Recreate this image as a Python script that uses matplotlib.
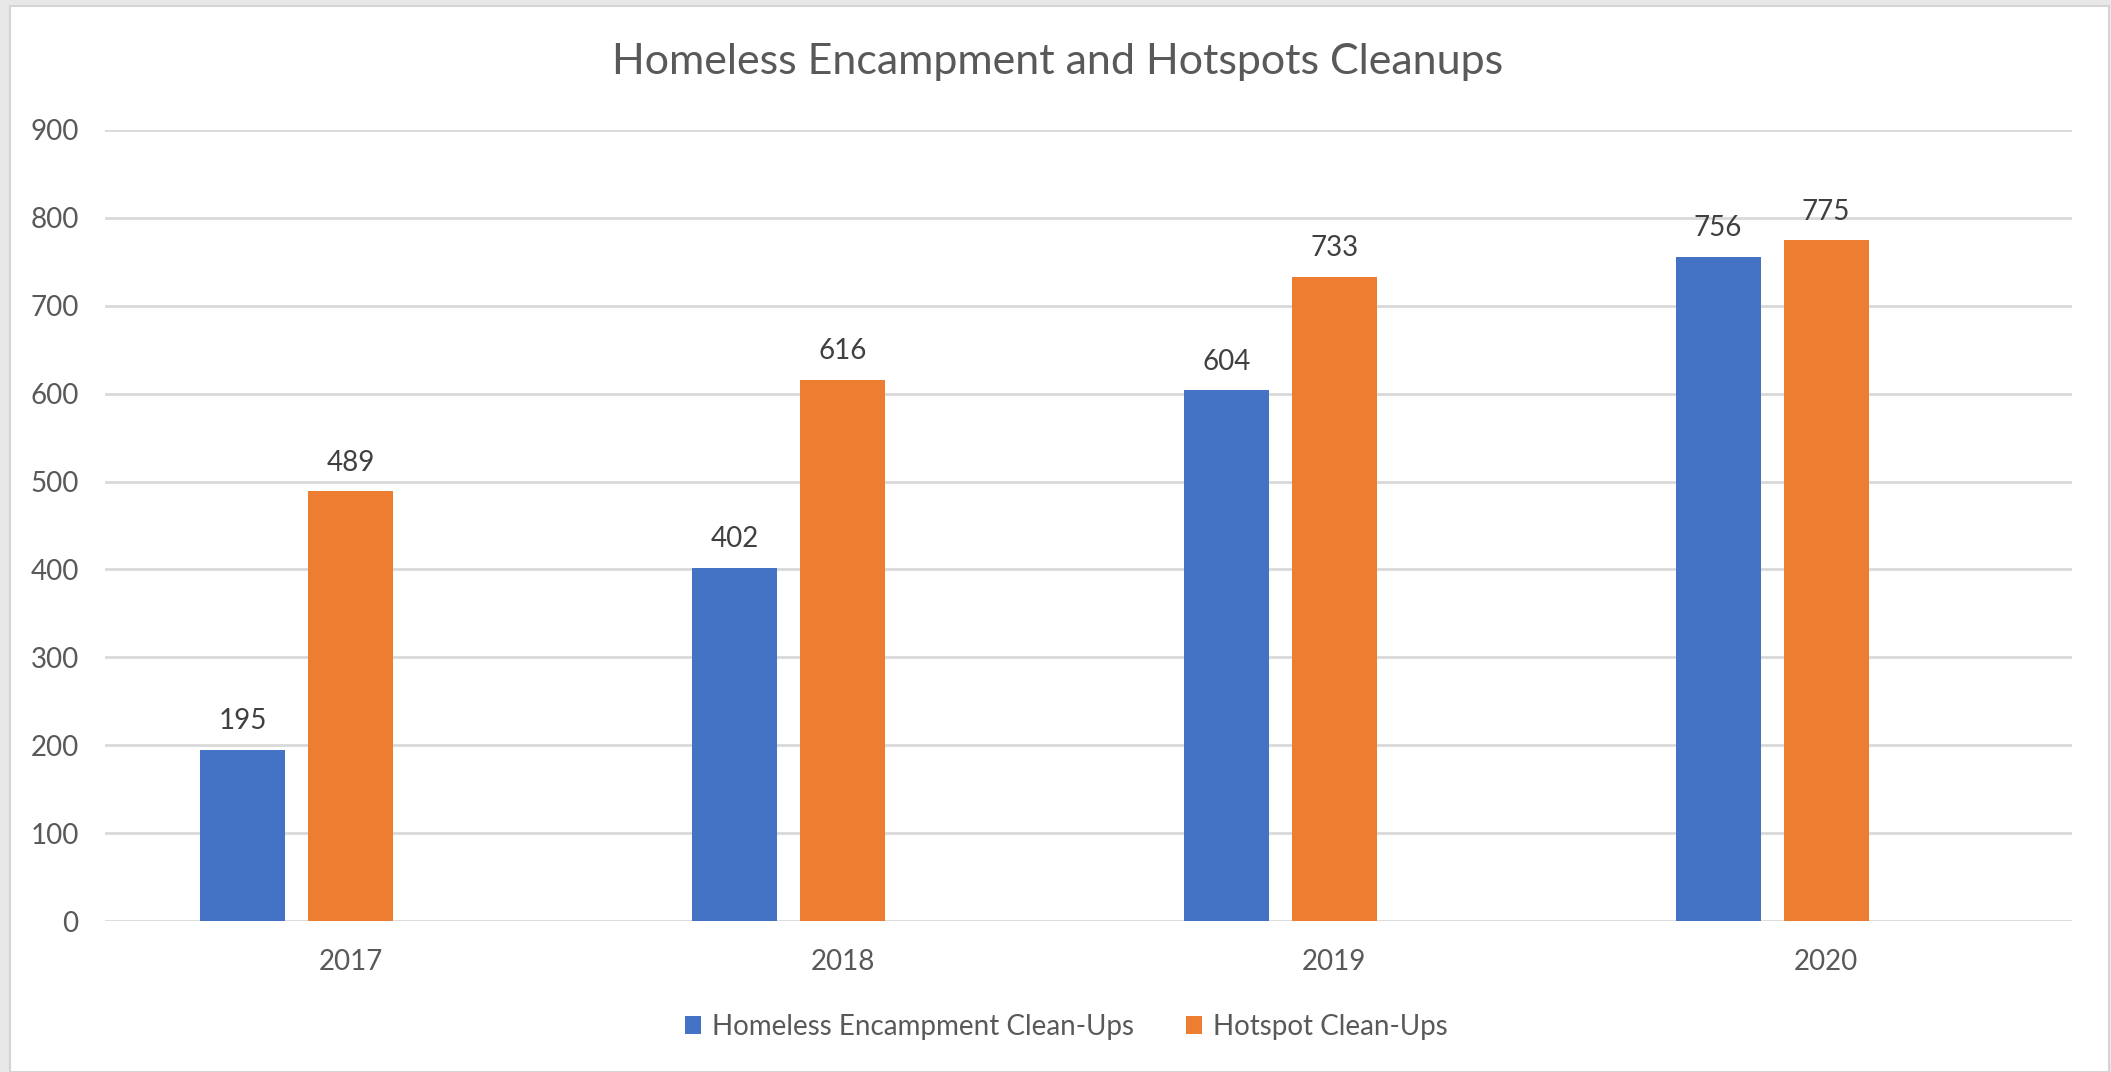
import matplotlib.pyplot as plt
import numpy as np
from matplotlib.patches import Rectangle

# Данные
years = ['2017', '2018', '2019', '2020']
encampment = [195, 402, 604, 756]
hotspot = [489, 616, 733, 775]
series_names = ['Homeless Encampment Clean-Ups', 'Hotspot Clean-Ups']
yticks = [0, 100, 200, 300, 400, 500, 600, 700, 800, 900]

blue = '#4472C4'
orange = '#ED7D31'
plt.rcParams['font.family'] = ['Lato', 'DejaVu Sans']

fig = plt.figure(figsize=(21.11, 10.72), dpi=100)
W, H = 2111, 1072

# Серая рамка вокруг белой области
fig.patches.append(Rectangle((0, 0), 1, 1, transform=fig.transFigure,
                             facecolor='#e7e8e7', edgecolor='none', zorder=-10))
fig.patches.append(Rectangle((10 / W, 0), (2099 / W), (1066 / H), transform=fig.transFigure,
                             facecolor='white', edgecolor='#d4d4d4', linewidth=1.5, zorder=-9))

ax = fig.add_axes([105 / W, 151 / H, 1967 / W, 791 / H])
ax.set_facecolor('none')

x = np.arange(len(years))
width = 0.173
step = 0.2196
b1 = ax.bar(x - step, encampment, width, color=blue, label=series_names[0], zorder=3)
b2 = ax.bar(x, hotspot, width, color=orange, label=series_names[1], zorder=3)

for bars in (b1, b2):
    ax.bar_label(bars, padding=11, fontsize=20, color='#404040')

ax.set_xlim(-0.5, 3.5)
ax.set_ylim(0, 900)
ax.set_yticks(yticks)
ax.set_xticks(x)
ax.set_xticklabels(years)
ax.tick_params(axis='both', length=0, labelsize=20, colors='#595959')
ax.tick_params(axis='y', pad=19)
ax.tick_params(axis='x', pad=20)
ax.grid(axis='y', color='#d9d9d9', linewidth=2, zorder=0)
for s in ax.spines.values():
    s.set_visible(False)

fig.text(0.5008, 1 - 62 / H, 'Homeless Encampment and Hotspots Cleanups',
         ha='center', va='center', fontsize=31, color='#595959')

fig.legend(loc='center', bbox_to_anchor=(0.5052, 1 - 1027 / H), ncol=2, frameon=False,
           fontsize=20, labelcolor='#595959', handlelength=0.55, handleheight=0.6,
           handletextpad=0.4, columnspacing=1.9)

plt.savefig('out.png', dpi=100)
